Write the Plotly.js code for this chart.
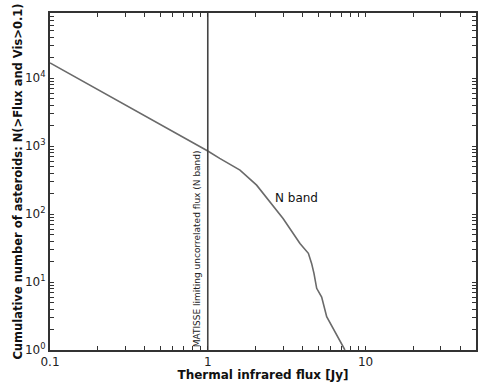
<!DOCTYPE html>
<html>
<head>
<meta charset="utf-8">
<script src="https://cdn.plot.ly/plotly-3.0.1.min.js"></script>
<style>html,body{margin:0;padding:0;background:#fff;} #chart{width:489px;height:382px;}</style>
</head>
<body>
<div id="chart"></div>
<script>
// cumulative counts
const fluxJy=[0.1,0.3,0.6,1.0,1.19,1.6,2.04,2.48,3.0,3.32,3.84,4.34,4.55,4.71,4.9,5.27,5.67,7.4];
const countN=[16800,4050,1650,850,660,445,267,151,86,61,37,26.5,18.8,13.4,8.1,6.0,3.1,1.0];

const limitFlux=[1,1];
const limitY=[1,1e5];

const xTickVals=[0.1,0.2,0.3,0.4,0.5,0.6,0.7,0.8,0.9,1,2,3,4,5,6,7,8,9,10,20,30,40,50];
const xTickText=xTickVals.map(v=>[0.1,1,10].includes(v)?String(v):'');
const yTickVals=[];
for(let d=0;d<5;d++){ for(let m=1;m<10;m++){ yTickVals.push(m*Math.pow(10,d)); } }
const yTickText=yTickVals.map((v,i)=>(i%9===0)?'10<sup>'+(i/9)+'</sup>':'');

const traces=[
  { x:fluxJy, y:countN, mode:'lines', type:'scatter', line:{color:'#6a6a6a',width:1.6}, hoverinfo:'x+y' },
  { x:limitFlux, y:limitY, mode:'lines', type:'scatter', line:{color:'#444',width:1.6}, hoverinfo:'skip' }
];

const axisCommon={ showgrid:false, zeroline:false, showline:true, linecolor:'#333', linewidth:2, mirror:'ticks', ticks:'inside', ticklen:4, tickwidth:1, tickcolor:'#333', tickmode:'array', tickfont:{family:'DejaVu Sans',size:12,color:'#222'} };

const layout={
  width:489, height:382,
  margin:{l:50,r:13,t:13,b:32},
  paper_bgcolor:'#fff', plot_bgcolor:'#fff',
  showlegend:false,
  font:{family:'DejaVu Sans',color:'#111'},
  xaxis:Object.assign({},axisCommon,{ type:'log', range:[-1,1.7], tickvals:xTickVals, ticktext:xTickText,
    title:{text:'<b>Thermal infrared flux [Jy]</b>', font:{family:'DejaVu Sans',size:12,color:'#111'}, standoff:5} }),
  yaxis:Object.assign({},axisCommon,{ type:'log', range:[0,4.96], tickvals:yTickVals, ticktext:yTickText,
    title:{text:'<b>Cumulative number of asteroids: N(>Flux and Vis>0.1)</b>', font:{family:'DejaVu Sans',size:11.5,color:'#111'}, standoff:0} }),
  annotations:[
    { x:Math.log10(3.64), y:Math.log10(172), xref:'x', yref:'y', text:'N band', showarrow:false, font:{family:'DejaVu Sans',size:12,color:'#111'} },
    { x:Math.log10(0.85), y:Math.log10(31), xref:'x', yref:'y', text:'MATISSE limiting uncorrelated flux (N band)', textangle:-90, showarrow:false, font:{family:'DejaVu Sans',size:9,color:'#222'} }
  ]
};

Plotly.newPlot('chart',traces,layout,{displayModeBar:false,staticPlot:true});
</script>
</body>
</html>
